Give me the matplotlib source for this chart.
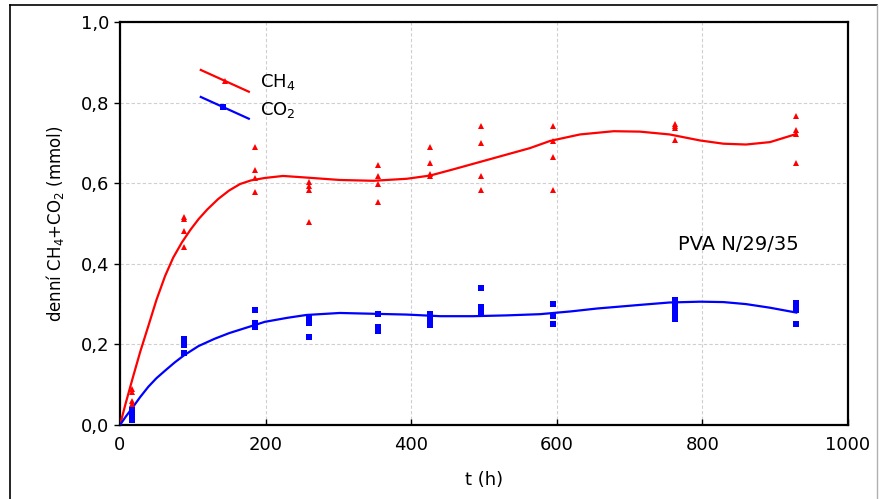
import numpy as np
import matplotlib
matplotlib.use('Agg')
import matplotlib.pyplot as plt
from matplotlib.ticker import FuncFormatter, MultipleLocator
from matplotlib.lines import Line2D

plt.rcParams['font.family'] = ['DejaVu Sans']
plt.rcParams['mathtext.default'] = 'regular'

# measured points (t in h)
t_ch4 = [17]*4 + [88]*4 + [185]*4 + [259]*4 + [355]*4 + [426]*4 + [496]*4 + [595]*4 + [763]*4 + [929]*4
ch4 = [0.089, 0.081, 0.059, 0.051,
       0.517, 0.511, 0.482, 0.441,
       0.690, 0.634, 0.613, 0.578,
       0.604, 0.593, 0.583, 0.503,
       0.645, 0.619, 0.599, 0.553,
       0.690, 0.650, 0.623, 0.618,
       0.741, 0.701, 0.619, 0.584,
       0.741, 0.704, 0.665, 0.584,
       0.748, 0.743, 0.737, 0.706,
       0.767, 0.731, 0.723, 0.650]

t_co2 = [17]*4 + [88]*4 + [185]*4 + [259]*3 + [355]*3 + [426]*4 + [496]*4 + [595]*3 + [763]*5 + [929]*4
co2 = [0.038, 0.030, 0.020, 0.013,
       0.214, 0.206, 0.198, 0.179,
       0.285, 0.252, 0.248, 0.243,
       0.268, 0.254, 0.218,
       0.275, 0.243, 0.234,
       0.276, 0.266, 0.252, 0.248,
       0.341, 0.293, 0.289, 0.275,
       0.300, 0.271, 0.250,
       0.310, 0.300, 0.289, 0.279, 0.264,
       0.302, 0.294, 0.285, 0.250]

# smoothed curves
t_ch4_fit = [0, 8, 18, 28, 39, 50, 62, 73, 85, 97, 108, 120, 135, 150, 165, 180, 199, 224,
             256, 302, 348, 394, 426, 455, 485, 531, 563, 591, 632, 678, 714, 755, 797,
             829, 860, 893, 929]
ch4_fit = [0.0, 0.055, 0.120, 0.183, 0.246, 0.310, 0.370, 0.415, 0.453, 0.485, 0.511,
           0.535, 0.561, 0.582, 0.598, 0.607, 0.613, 0.618, 0.614, 0.608, 0.606, 0.611,
           0.619, 0.633, 0.648, 0.671, 0.687, 0.705, 0.721, 0.729, 0.728, 0.721, 0.706,
           0.698, 0.696, 0.702, 0.722]

t_co2_fit = [0, 8, 18, 28, 39, 50, 62, 75, 88, 108, 130, 150, 171, 199, 230, 256, 302,
             348, 394, 440, 485, 531, 577, 620, 655, 714, 755, 797, 829, 860, 893, 929]
co2_fit = [0.0, 0.021, 0.045, 0.070, 0.095, 0.116, 0.135, 0.155, 0.173, 0.196, 0.214,
           0.228, 0.240, 0.256, 0.266, 0.273, 0.278, 0.276, 0.274, 0.270, 0.270, 0.272,
           0.275, 0.282, 0.289, 0.298, 0.304, 0.306, 0.305, 0.300, 0.291, 0.279]

RED = '#ff0000'
BLUE = '#0000ff'

fig = plt.figure(figsize=(8.81, 4.99), dpi=100)
ax = fig.add_axes([0.1362, 0.1483, 0.8263, 0.8076])

ax.plot(t_ch4_fit, ch4_fit, color=RED, lw=1.6, zorder=3)
ax.plot(t_co2_fit, co2_fit, color=BLUE, lw=1.6, zorder=3)
ax.plot(t_ch4, ch4, '^', color=RED, markersize=4.5, markeredgewidth=0, zorder=4)
ax.plot(t_co2, co2, 's', color=BLUE, markersize=4, markeredgewidth=0, zorder=4)

ax.set_xlim(0, 1000)
ax.set_ylim(0, 1.0)
ax.xaxis.set_major_locator(MultipleLocator(200))
ax.yaxis.set_major_locator(MultipleLocator(0.2))
ax.yaxis.set_major_formatter(FuncFormatter(lambda v, _: ('%.1f' % v).replace('.', ',')))
ax.grid(True, color='#cfcfcf', linestyle=(0, (3, 2)), linewidth=0.8)
ax.set_axisbelow(True)
for s in ax.spines.values():
    s.set_linewidth(1.6)
    s.set_color('black')
ax.tick_params(axis='x', direction='in', length=4, width=1, labelsize=13, pad=8)
ax.tick_params(axis='y', direction='out', length=4, width=1, labelsize=13, pad=4)

ax.set_xlabel('t (h)', fontsize=13, labelpad=12)
ax.set_ylabel('denní CH$_4$+CO$_2$ (mmol)', fontsize=12, labelpad=10)

# legend with slanted line samples
ax.add_line(Line2D([0.111, 0.177], [0.881, 0.827], color=RED, lw=1.6, transform=ax.transAxes))
ax.plot([0.144], [0.854], '^', color=RED, markersize=4.5, markeredgewidth=0, transform=ax.transAxes)
ax.add_line(Line2D([0.111, 0.177], [0.814, 0.760], color=BLUE, lw=1.6, transform=ax.transAxes))
ax.plot([0.141], [0.789], 's', color=BLUE, markersize=4, markeredgewidth=0, transform=ax.transAxes)
ax.text(0.193, 0.852, 'CH$_4$', transform=ax.transAxes, fontsize=13, va='center')
ax.text(0.193, 0.782, 'CO$_2$', transform=ax.transAxes, fontsize=13, va='center')

ax.text(0.932, 0.447, 'PVA N/29/35', transform=ax.transAxes, fontsize=14, ha='right', va='center')

# outer frame
fig.add_artist(Line2D([0.0114, 0.0114], [0.0, 0.99], color='black', lw=1.2, transform=fig.transFigure))
fig.add_artist(Line2D([0.0114, 0.995], [0.99, 0.99], color='black', lw=1.2, transform=fig.transFigure))
fig.add_artist(Line2D([0.995, 0.995], [0.0, 0.99], color='#b0b0b0', lw=1.0, transform=fig.transFigure))

plt.savefig('out.png', dpi=100)
